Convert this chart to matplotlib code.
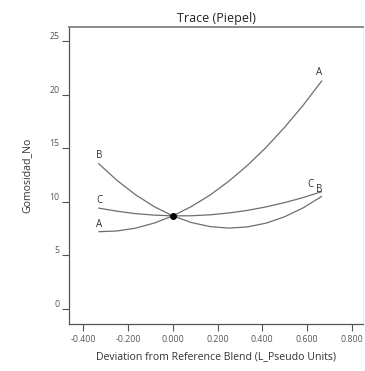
import matplotlib
matplotlib.use("Agg")
import matplotlib.pyplot as plt

plt.rcParams['font.family'] = ['Open Sans', 'DejaVu Sans']

# Deviation from reference blend (x) and Gomosidad_No traces
dev = [-0.333, -0.25, -0.167, -0.083, 0.0, 0.083, 0.167, 0.25, 0.333, 0.417, 0.5, 0.583, 0.667]
trace_A = [7.20, 7.27, 7.53, 8.01, 8.68, 9.55, 10.63, 11.91, 13.38, 15.07, 16.95, 19.01, 21.31]
trace_B = [13.59, 12.00, 10.66, 9.54, 8.68, 8.06, 7.68, 7.54, 7.65, 8.00, 8.60, 9.43, 10.52]
trace_C = [9.41, 9.12, 8.89, 8.75, 8.68, 8.69, 8.78, 8.95, 9.19, 9.52, 9.92, 10.39, 10.95]
components = ['A', 'B', 'C']
ref_point = (0.0, 8.68)

xticks = [-0.4, -0.2, 0.0, 0.2, 0.4, 0.6, 0.8]
xticklabels = ['-0.400', '-0.200', '0.000', '0.200', '0.400', '0.600', '0.800']
yticks = [0, 5, 10, 15, 20, 25]

fig = plt.figure(figsize=(3.65, 3.71), dpi=100)
ax = fig.add_axes([0.189, 0.127, 0.806, 0.800])

line_color = '#6e6e6e'
traces = [trace_A, trace_B, trace_C]
for name, ys in zip(components, traces):
    ax.plot(dev, ys, color=line_color, lw=0.9, solid_capstyle='butt')

# start labels
for name, ys in zip(components, traces):
    ax.text(dev[0] - 0.01, ys[0] + 0.2, name, ha='left', va='bottom',
            fontsize=7, color='#333333')
# end labels
end_offsets = {'A': (0.0, 0.2), 'B': (0.0, 0.15), 'C': (-0.04, 0.1)}
for name, ys in zip(components, traces):
    dx, dy = end_offsets[name]
    ax.text(dev[-1] + dx, ys[-1] + dy, name, ha='right', va='bottom',
            fontsize=7, color='#333333')

ax.plot([ref_point[0]], [ref_point[1]], 'o', color='black', ms=4, zorder=5)

ax.set_xlim(-0.464, 0.851)
ax.set_ylim(-1.4, 26.3)
ax.set_xticks(xticks)
ax.set_xticklabels(xticklabels)
ax.set_yticks(yticks)
for lab in ax.get_yticklabels():
    lab.set_verticalalignment('bottom')

ax.tick_params(axis='both', direction='out', length=5, width=0.8,
               colors='#555555', labelsize=6.3, pad=2)
ax.tick_params(axis='x', pad=3)

for s in ['left', 'bottom']:
    ax.spines[s].set_color('#555555')
    ax.spines[s].set_linewidth(0.9)
ax.spines['top'].set_color('#8a8a8a')
ax.spines['top'].set_linewidth(1.4)
ax.spines['right'].set_color('#e8e8e8')
ax.spines['right'].set_linewidth(0.6)

ax.set_title('Trace (Piepel)', fontsize=9, color='#222222', pad=4)
ax.set_xlabel('Deviation from Reference Blend (L_Pseudo Units)', fontsize=7.6, color='#333333', labelpad=5)
ax.set_ylabel('Gomosidad_No', fontsize=7.6, color='#333333', labelpad=12)

fig.savefig('out.png', dpi=100)
